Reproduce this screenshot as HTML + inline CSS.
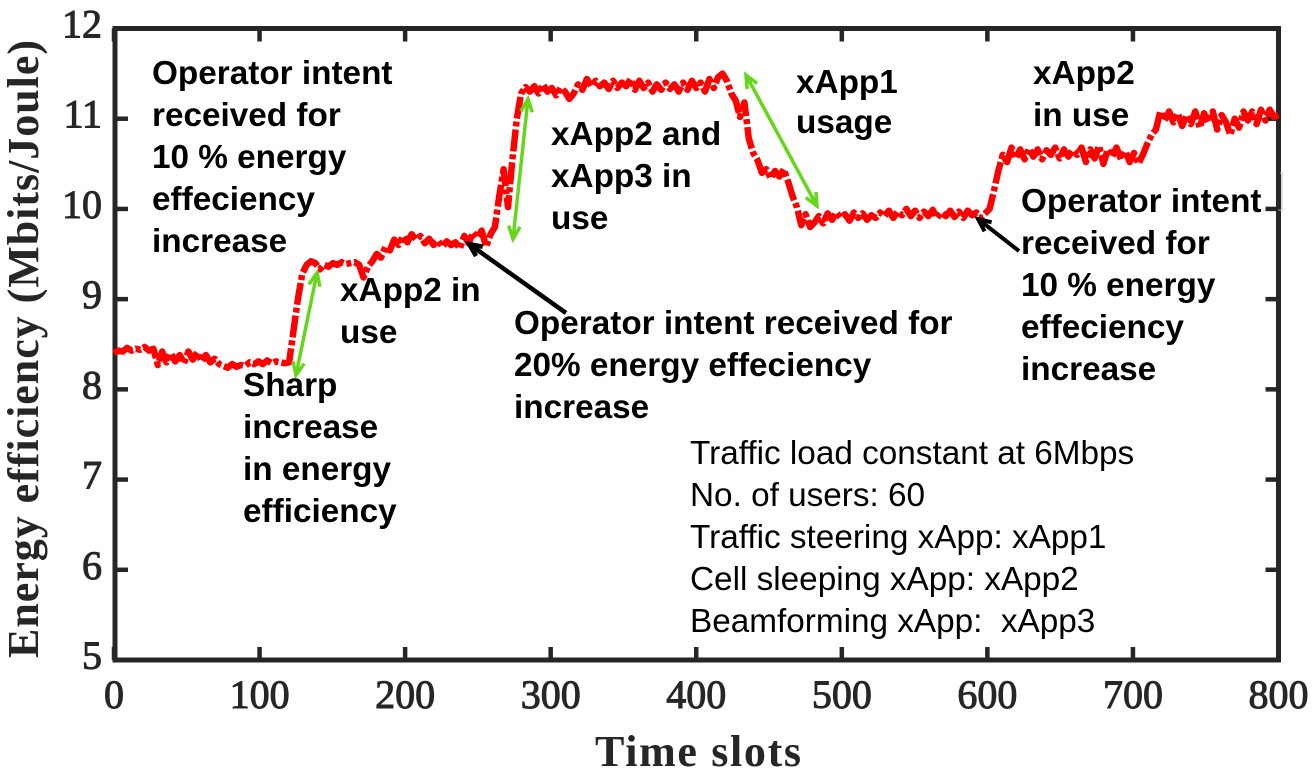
<!DOCTYPE html>
<html lang="en">
<head>
<meta charset="utf-8">
<title>Energy efficiency over time slots</title>
<style>
html,body{margin:0;padding:0;background:#fff;width:1314px;height:775px;overflow:hidden}
svg{display:block}
.ann{font-family:"Liberation Sans",sans-serif;font-weight:700;font-size:33.3px;fill:#000}
.info{font-family:"Liberation Sans",sans-serif;font-size:33.3px;fill:#000}
.tick{font-family:"Liberation Serif",serif;font-size:40px;fill:#262626;stroke:#262626;stroke-width:1px}
.title{font-family:"Liberation Serif",serif;font-weight:700;font-size:44px;fill:#262626}
</style>
</head>
<body>
<svg id="chart" width="1314" height="775" viewBox="0 0 1314 775" xmlns="http://www.w3.org/2000/svg">
  <g id="axes"></g>
  <g id="series"></g>
  <g id="arrows"></g>

  <text class="title" x="698" y="766" text-anchor="middle" textLength="206">Time slots</text>
  <text class="title" transform="translate(38,349) rotate(-90)" text-anchor="middle" textLength="618">Energy efficiency (Mbits/Joule)</text>

  <text class="ann">
    <tspan x="152" y="84">Operator intent</tspan>
    <tspan x="152" y="126">received for</tspan>
    <tspan x="152" y="168">10 % energy</tspan>
    <tspan x="152" y="210">effeciency</tspan>
    <tspan x="152" y="252">increase</tspan>
  </text>
  <text class="ann">
    <tspan x="243" y="396">Sharp</tspan>
    <tspan x="243" y="438">increase</tspan>
    <tspan x="243" y="480">in energy</tspan>
    <tspan x="243" y="522">efficiency</tspan>
  </text>
  <text class="ann">
    <tspan x="340" y="301">xApp2 in</tspan>
    <tspan x="340" y="343">use</tspan>
  </text>
  <text class="ann">
    <tspan x="514" y="334">Operator intent received for</tspan>
    <tspan x="514" y="376">20% energy effeciency</tspan>
    <tspan x="514" y="418">increase</tspan>
  </text>
  <text class="ann">
    <tspan x="551" y="145">xApp2 and</tspan>
    <tspan x="551" y="187">xApp3 in</tspan>
    <tspan x="551" y="229">use</tspan>
  </text>
  <text class="ann">
    <tspan x="796" y="93">xApp1</tspan>
    <tspan x="796" y="133">usage</tspan>
  </text>
  <text class="ann">
    <tspan x="1033" y="84">xApp2</tspan>
    <tspan x="1033" y="126">in use</tspan>
  </text>
  <text class="ann">
    <tspan x="1021" y="212">Operator intent</tspan>
    <tspan x="1021" y="254">received for</tspan>
    <tspan x="1021" y="296">10 % energy</tspan>
    <tspan x="1021" y="338">effeciency</tspan>
    <tspan x="1021" y="380">increase</tspan>
  </text>
  <text class="info" xml:space="preserve">
    <tspan x="690" y="464">Traffic load constant at 6Mbps</tspan>
    <tspan x="690" y="506">No. of users: 60</tspan>
    <tspan x="690" y="548">Traffic steering xApp: xApp1</tspan>
    <tspan x="690" y="590">Cell sleeping xApp: xApp2</tspan>
    <tspan x="690" y="632">Beamforming xApp:  xApp3</tspan>
  </text>
</svg>
<script>
const xTickValues = [0, 100, 200, 300, 400, 500, 600, 700, 800];
const yTickValues = [5, 6, 7, 8, 9, 10, 11, 12];
const energyEfficiency = [
  8.40, 8.43, 8.42, 8.46, 8.43, 8.45, 8.44, 8.47, 8.43, 8.45,
  8.27, 8.42, 8.30, 8.40, 8.31, 8.38, 8.29, 8.42, 8.33, 8.41,
  8.31, 8.38, 8.30, 8.34, 8.28, 8.26, 8.24, 8.28, 8.25, 8.27,
  8.26, 8.30, 8.28, 8.31, 8.28, 8.32, 8.29, 8.31, 8.30, 8.29,
  8.30, 8.65, 9.00, 9.28, 9.38, 9.42, 9.40, 9.33, 9.38, 9.36,
  9.40, 9.38, 9.41, 9.39, 9.40, 9.41, 9.38, 9.24, 9.36, 9.42,
  9.50, 9.46, 9.58, 9.54, 9.66, 9.60, 9.70, 9.63, 9.72, 9.66,
  9.70, 9.62, 9.67, 9.60, 9.65, 9.58, 9.64, 9.60, 9.63, 9.56,
  9.70, 9.62, 9.74, 9.68, 9.76, 9.58, 9.72, 9.80, 10.14, 10.44,
  10.02, 10.55, 11.00, 11.28, 11.35, 11.30, 11.36, 11.28, 11.38, 11.30,
  11.34, 11.26, 11.34, 11.30, 11.22, 11.28, 11.38, 11.32, 11.44, 11.36,
  11.42, 11.36, 11.40, 11.33, 11.42, 11.34, 11.40, 11.36, 11.44, 11.32,
  11.42, 11.34, 11.40, 11.30, 11.38, 11.32, 11.40, 11.33, 11.38, 11.30,
  11.40, 11.32, 11.42, 11.34, 11.40, 11.30, 11.44, 11.34, 11.46, 11.50,
  11.42, 11.28, 11.20, 11.02, 11.18, 10.78, 10.62, 10.54, 10.40, 10.44,
  10.34, 10.42, 10.36, 10.44, 10.30, 10.14, 10.02, 9.82, 9.94, 9.80,
  9.85, 9.92, 9.84, 9.95, 9.88, 9.96, 9.90, 9.94, 9.87, 9.96,
  9.90, 9.95, 9.88, 9.93, 9.90, 9.96, 9.92, 9.98, 9.90, 9.97,
  9.93, 10.00, 9.92, 9.98, 9.90, 9.97, 9.92, 9.99, 9.90, 9.96,
  9.92, 9.98, 9.91, 9.97, 9.90, 9.98, 9.93, 9.96, 9.90, 9.95,
  10.00, 10.20, 10.42, 10.60, 10.52, 10.68, 10.56, 10.66, 10.55, 10.67,
  10.58, 10.66, 10.55, 10.65, 10.60, 10.68, 10.56, 10.66, 10.58, 10.65,
  10.60, 10.68, 10.52, 10.66, 10.56, 10.70, 10.50, 10.66, 10.58, 10.68,
  10.55, 10.64, 10.52, 10.62, 10.50, 10.60, 10.72, 10.82, 10.88, 11.08,
  10.98, 11.08, 10.96, 11.06, 10.92, 11.04, 10.94, 11.08, 10.90, 11.06,
  10.96, 11.08, 10.88, 11.04, 10.96, 10.82, 11.00, 10.90, 11.08, 10.98,
  11.08, 10.94, 11.10, 10.98, 11.10, 11.02, 11.04
];
const slotMax = 800;

const NS = 'http://www.w3.org/2000/svg';
const LEFT = 115, RIGHT = 1278.5, TOP = 28.5, BOTTOM = 660;
const AXIS = '#262626';
function xScale(v) { return 114 + (v / slotMax) * (RIGHT - 114); }
function yScale(v) { return BOTTOM - (v - 5) / 7 * (BOTTOM - TOP); }
function line(parent, x1, y1, x2, y2, color, w) {
  const l = document.createElementNS(NS, 'line');
  l.setAttribute('x1', x1);
  l.setAttribute('y1', y1);
  l.setAttribute('x2', x2);
  l.setAttribute('y2', y2);
  l.setAttribute('stroke', color);
  l.setAttribute('stroke-width', w);
  parent.appendChild(l);
  return l;
}

const axes = document.getElementById('axes');

const frame = document.createElementNS(NS, 'rect');
frame.setAttribute('x', LEFT);
frame.setAttribute('y', TOP);
frame.setAttribute('width', RIGHT - LEFT);
frame.setAttribute('height', BOTTOM - TOP);
frame.setAttribute('fill', 'none');
frame.setAttribute('stroke', AXIS);
frame.setAttribute('stroke-width', 5);


axes.appendChild(frame);

const artifact = document.createElementNS(NS, 'polyline');
artifact.setAttribute('points', '1280,173 1282,173 1282,210 1266,210');
artifact.setAttribute('fill', 'none');
artifact.setAttribute('stroke', '#bdbdbd');
artifact.setAttribute('stroke-width', 1);


axes.appendChild(artifact);

xTickValues.forEach(function (v) {
  const x = xScale(v);
  const b = line(axes, x, BOTTOM, x, BOTTOM - 13, AXIS, 4.5);
  
  
  const t = line(axes, x, TOP, x, TOP + 13, AXIS, 4.5);
  
  
  const label = document.createElementNS(NS, 'text');
  label.setAttribute('class', 'tick');
  label.setAttribute('x', x);
  label.setAttribute('y', 708);
  label.setAttribute('text-anchor', 'middle');
  
  
  label.textContent = v;
  axes.appendChild(label);
});

yTickValues.forEach(function (v) {
  const y = yScale(v);
  const l = line(axes, LEFT, y, LEFT + 13, y, AXIS, 4.5);
  
  
  const r = line(axes, RIGHT, y, RIGHT - 13, y, AXIS, 4.5);
  
  
  const label = document.createElementNS(NS, 'text');
  label.setAttribute('class', 'tick');
  label.setAttribute('x', 102);
  label.setAttribute('y', y + 9);
  label.setAttribute('text-anchor', 'end');
  
  
  label.textContent = v;
  axes.appendChild(label);
});

const pts = energyEfficiency.map(function (v, i) {
  const slot = i * slotMax / (energyEfficiency.length - 1);
  return xScale(slot).toFixed(1) + ',' + yScale(v).toFixed(1);
}).join(' ');
const seriesLine = document.createElementNS(NS, 'polyline');
seriesLine.setAttribute('points', pts);
seriesLine.setAttribute('fill', 'none');
seriesLine.setAttribute('stroke', '#ff0000');
seriesLine.setAttribute('stroke-width', 6.5);
seriesLine.setAttribute('stroke-linejoin', 'round');
seriesLine.setAttribute('stroke-dasharray', '22 3 5 3');


document.getElementById('series').appendChild(seriesLine);

const arrows = document.getElementById('arrows');
function head(g, tx, ty, fx, fy, color, w, size) {
  const a = Math.atan2(fy - ty, fx - tx);
  const s = 0.42;
  const p = document.createElementNS(NS, 'polyline');
  const p1 = (tx + size * Math.cos(a + s)) + ',' + (ty + size * Math.sin(a + s));
  const p2 = (tx + size * Math.cos(a - s)) + ',' + (ty + size * Math.sin(a - s));
  p.setAttribute('points', p1 + ' ' + tx + ',' + ty + ' ' + p2);
  p.setAttribute('fill', 'none');
  p.setAttribute('stroke', color);
  p.setAttribute('stroke-width', w);
  g.appendChild(p);
}
function arrow(name, x1, y1, x2, y2, color, w, both) {
  const g = document.createElementNS(NS, 'g');
  
  
  line(g, x1, y1, x2, y2, color, w);
  head(g, x2, y2, x1, y1, color, w, 14);
  if (both) head(g, x1, y1, x2, y2, color, w, 14);
  arrows.appendChild(g);
}
arrow('sharp-increase-arrow', 296, 375, 317, 273, '#66d61a', 3.5, true);
arrow('xapp2-xapp3-rise-arrow', 513, 239, 528, 99, '#66d61a', 3.5, true);
arrow('xapp1-usage-arrow', 817, 206, 746, 75, '#66d61a', 3.5, true);
arrow('intent-20-percent-arrow', 566, 313, 469, 244, '#000000', 4.5, false);
arrow('intent-10-percent-arrow', 1019, 251, 978, 219, '#000000', 4, false);
</script>
</body>
</html>
